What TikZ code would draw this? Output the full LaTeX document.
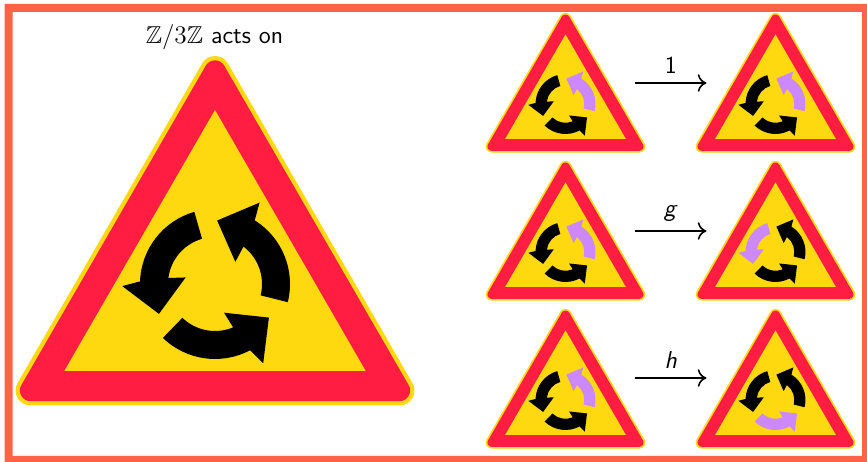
\documentclass[tikz,border=0pt]{standalone}
\usepackage{amsmath}
\usepackage{amssymb}
\usepackage{tikz}
\usetikzlibrary{arrows.meta,positioning}
\definecolor{framered}{RGB}{255,99,71}
\definecolor{signred}{RGB}{255,30,65}
\definecolor{signyellow}{RGB}{255,217,15}
\definecolor{signpurple}{RGB}{204,136,255}
\tikzset{
    rndarrow/.style={insert path={
        (226:75) arc[start angle=226,end angle=298,radius=75]
        -- (48.2,-79.3) -- (53.9,-33.6) -- (9,-28.7) -- (292.7:47)
        arc[start angle=292.7,end angle=226,radius=47] -- cycle}},
    maparrow/.style={-{Computer Modern Rightarrow[width=10pt,length=5pt]},line width=0.9pt},
    maplabel/.style={midway,above=1.5pt,font=\sffamily\fontsize{13.9}{16}\selectfont},
    % scale, then colours of the right, left and bottom arrows
    pics/roundsign/.style n args={4}{code={
        \begin{scope}[scale=#1,line join=round]
            \draw[signyellow,fill=signyellow,line width=#1*17pt] (0,213) -- (184.5,-106.5) -- (-184.5,-106.5) -- cycle;
            \draw[signred,fill=signred,line width=#1*12.1pt] (0,213) -- (184.5,-106.5) -- (-184.5,-106.5) -- cycle;
            \fill[signyellow] (0,174) -- (150.7,-87) -- (-150.7,-87) -- cycle;
            \fill[#2,rotate=120,rndarrow];
            \fill[#3,rotate=240,rndarrow];
            \fill[#4,rndarrow];
        \end{scope}
    }}
}
\begin{document}
\begin{tikzpicture}[x=0.02cm,y=0.02cm]
    \useasboundingbox (0,0) rectangle (867,462);
    % Frame
    \fill[framered,even odd rule] (4.7,0) rectangle (867,458) (12.7,6) rectangle (862,450);

    % Large sign
    \pic at (215,178) {roundsign={1}{black}{black}{black}};
    \node[font=\sffamily\fontsize{13.9}{16}\selectfont] (title) at (214.5,425) {$\mathbb{Z}/3\mathbb{Z}$ acts on};

    % First row
    \pic at (565.5,358) {roundsign={0.4}{signpurple}{black}{black}};
    \pic at (775.5,358) {roundsign={0.4}{signpurple}{black}{black}};
    \coordinate (onestart) at (635,379);
    \coordinate (oneend) at (706.5,379);
    \draw[maparrow] (onestart) -- (oneend) node[maplabel] (onelabel) {1};

    % Second row
    \pic at (565.5,210) {roundsign={0.4}{signpurple}{black}{black}};
    \pic at (775.5,210) {roundsign={0.4}{black}{signpurple}{black}};
    \coordinate (gstart) at (635,231);
    \coordinate (gend) at (706.5,231);
    \draw[maparrow] (gstart) -- (gend) node[maplabel] (glabel) {\textit{g}};

    % Third row
    \pic at (565.5,62) {roundsign={0.4}{signpurple}{black}{black}};
    \pic at (775.5,62) {roundsign={0.4}{black}{black}{signpurple}};
    \coordinate (hstart) at (635,84);
    \coordinate (hend) at (706.5,84);
    \draw[maparrow] (hstart) -- (hend) node[maplabel] (hlabel) {\textit{h}};
\end{tikzpicture}
\end{document}
